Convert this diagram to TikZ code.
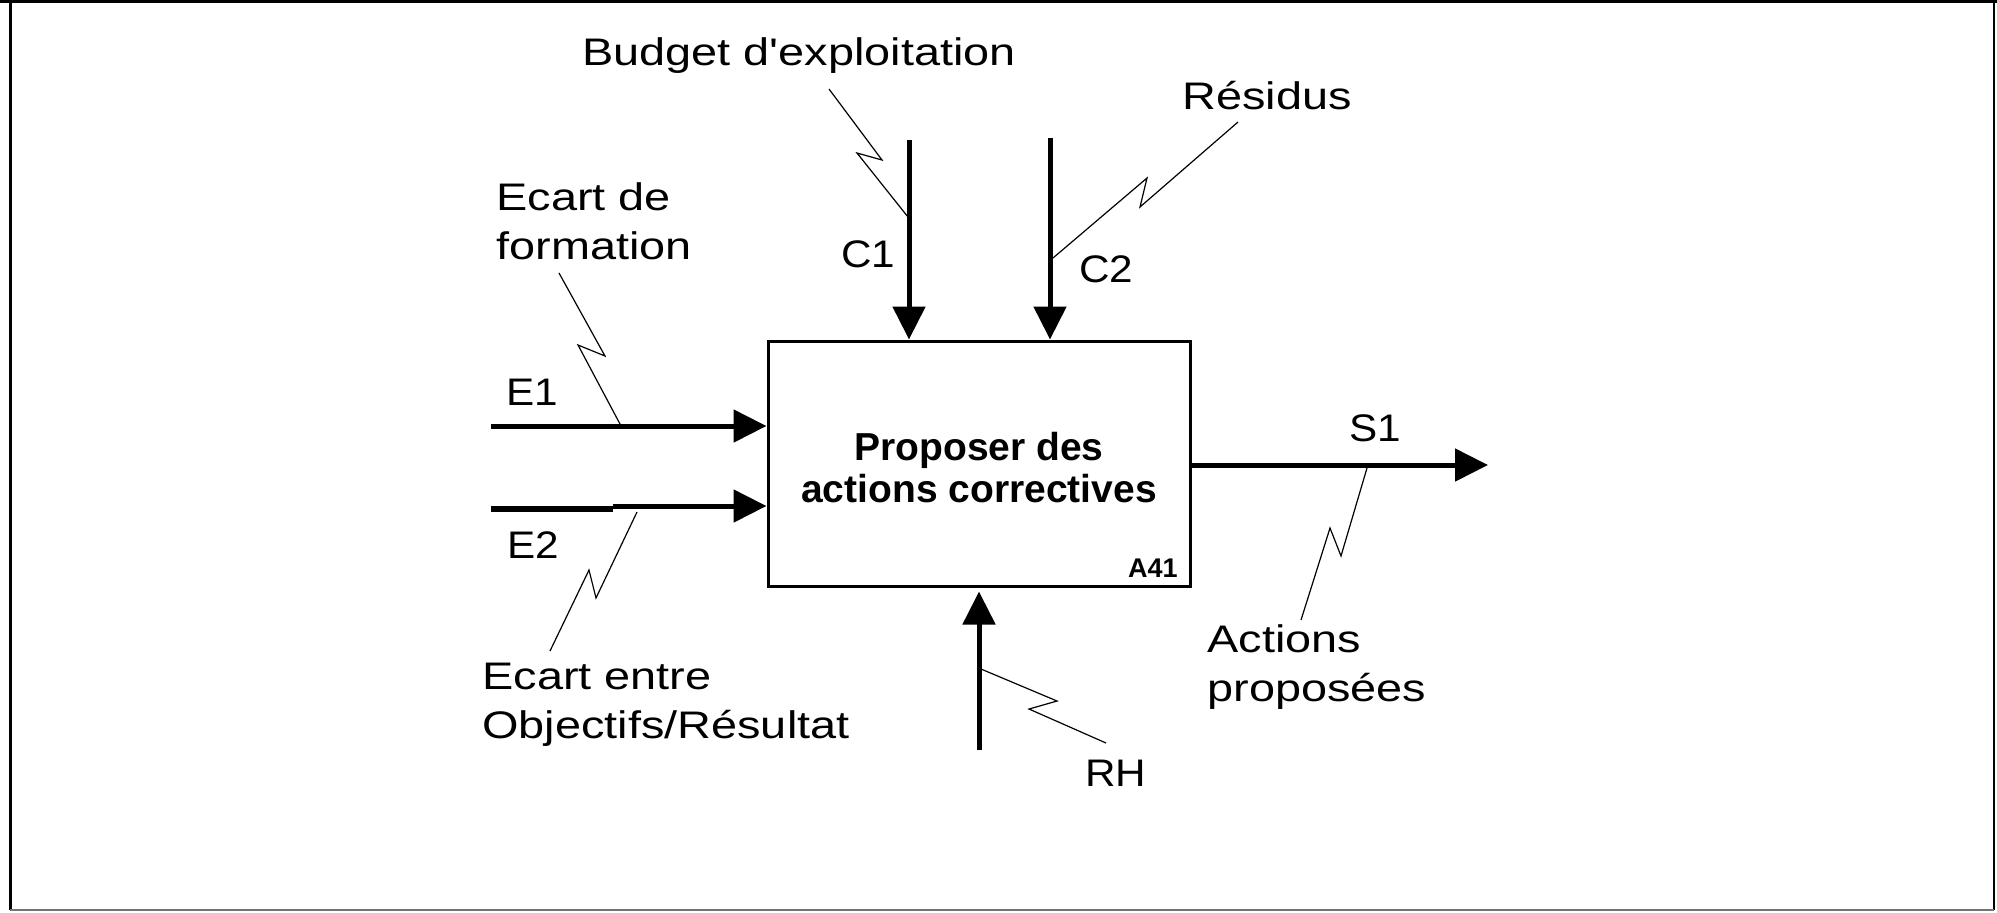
\documentclass[tikz,border=0pt]{standalone}
\usepackage{fontspec}
\setmainfont{Liberation Sans}
\usepackage{graphicx}
\usetikzlibrary{arrows.meta}
\newcommand\lab[1]{\scalebox{1.22}[1]{\begin{tabular}[t]{@{}l@{}}#1\end{tabular}}}
\newcommand\labn[1]{\scalebox{1.1}[1]{#1}}
\begin{document}
\begin{tikzpicture}[x=0.5pt,y=-0.5pt,
  lbl/.style={anchor=base west,inner sep=0pt,font=\fontsize{19.2}{24.75}\selectfont},
  flow/.style={line width=2.5pt,-{Triangle[length=16.5pt,width=16pt]}},
  squig/.style={line width=0.6pt},
  frameline/.style={line width=1.3pt}]
\useasboundingbox (0,0) rectangle (1997,912);
% outer frame
\draw[frameline] (0,1.5) -- (1997,1.5);
\draw[frameline] (10.5,0) -- (10.5,910);
\draw[frameline] (1994,0) -- (1994,910);
\draw[line width=1pt,black!55] (10,910) -- (1994,910);
\foreach \tx in {242,1422,1720} \draw[line width=1pt] (\tx,0) -- (\tx,3);
% activity box
\node[draw,line width=1.5pt,minimum width=211pt,minimum height=122.5pt,inner sep=0pt] (box) at (979,463.5) {};
\node[anchor=base,inner sep=0pt,font=\fontsize{19.5}{21}\selectfont\bfseries] (title) at (979,460)
  {\begin{tabular}[t]{@{}c@{}}Proposer des\\actions correctives\end{tabular}};
\node[anchor=base east,inner sep=0pt,font=\fontsize{13.5}{16}\selectfont\bfseries] (ref) at (1178,577) {A41};
% flows
\coordinate (c1s) at (909,140);
\coordinate (c2s) at (1050,138);
\coordinate (e1s) at (491,426);
\coordinate (e2s) at (491,509);
\coordinate (e2m) at (613,506);
\coordinate (s1e) at (1488,465);
\coordinate (rhs) at (979,750);
\draw[flow] (c1s) -- (c1s |- box.north);
\draw[flow] (c2s) -- (c2s |- box.north);
\draw[flow] (e1s) -- (e1s -| box.west);
\draw[line width=2.9pt] (e2s) -- (e2s -| e2m);
\draw[flow] (e2m) -- (e2m -| box.west);
\draw[flow] (s1e -| box.east) -- (s1e);
\draw[flow,shorten >=2pt] (rhs) -- (rhs |- box.south);
% labels
\node[lbl] (budget) at (582,65) {\lab{Budget d\textquotesingle exploitation}};
\node[lbl] (residus) at (1182,109) {\lab{Résidus}};
\node[lbl] (ecartf) at (496,210) {\lab{Ecart de\\formation}};
\node[lbl] (c1) at (841,267) {\labn{C1}};
\node[lbl] (c2) at (1079,282) {\labn{C2}};
\node[lbl] (e1) at (506,405) {\labn{E1}};
\node[lbl] (e2) at (507,558) {\labn{E2}};
\node[lbl] (s1) at (1349,441) {\labn{S1}};
\node[lbl] (actions) at (1207,652) {\lab{Actions\\proposées}};
\node[lbl] (ecarte) at (482,689) {\lab{Ecart entre\\Objectifs/Résultat}};
\node[lbl] (rh) at (1085,786) {\labn{RH}};
% squiggles
\coordinate (qb0) at (829,89);   \coordinate (qb1) at (908,217);
\coordinate (qr0) at (1238,122); \coordinate (qr1) at (1053,258);
\coordinate (qf0) at (559,273);  \coordinate (qf1) at (620,424);
\coordinate (qe0) at (637,512);  \coordinate (qe1) at (550,651);
\coordinate (qs0) at (1367,468); \coordinate (qs1) at (1301,620);
\coordinate (qh0) at (981,669);  \coordinate (qh1) at (1106,743);
\draw[squig] (qb0) -- (882,160) -- (857,153) -- (qb1);
\draw[squig] (qr0) -- (1140,207) -- (1147,178) -- (qr1);
\draw[squig] (qf0) -- (605,356) -- (578,345) -- (qf1);
\draw[squig] (qe0) -- (596,598) -- (589,570) -- (qe1);
\draw[squig] (qs0) -- (1341,556) -- (1330,528) -- (qs1);
\draw[squig] (qh0) -- (1057,701) -- (1029,709) -- (qh1);
\end{tikzpicture}
\end{document}
